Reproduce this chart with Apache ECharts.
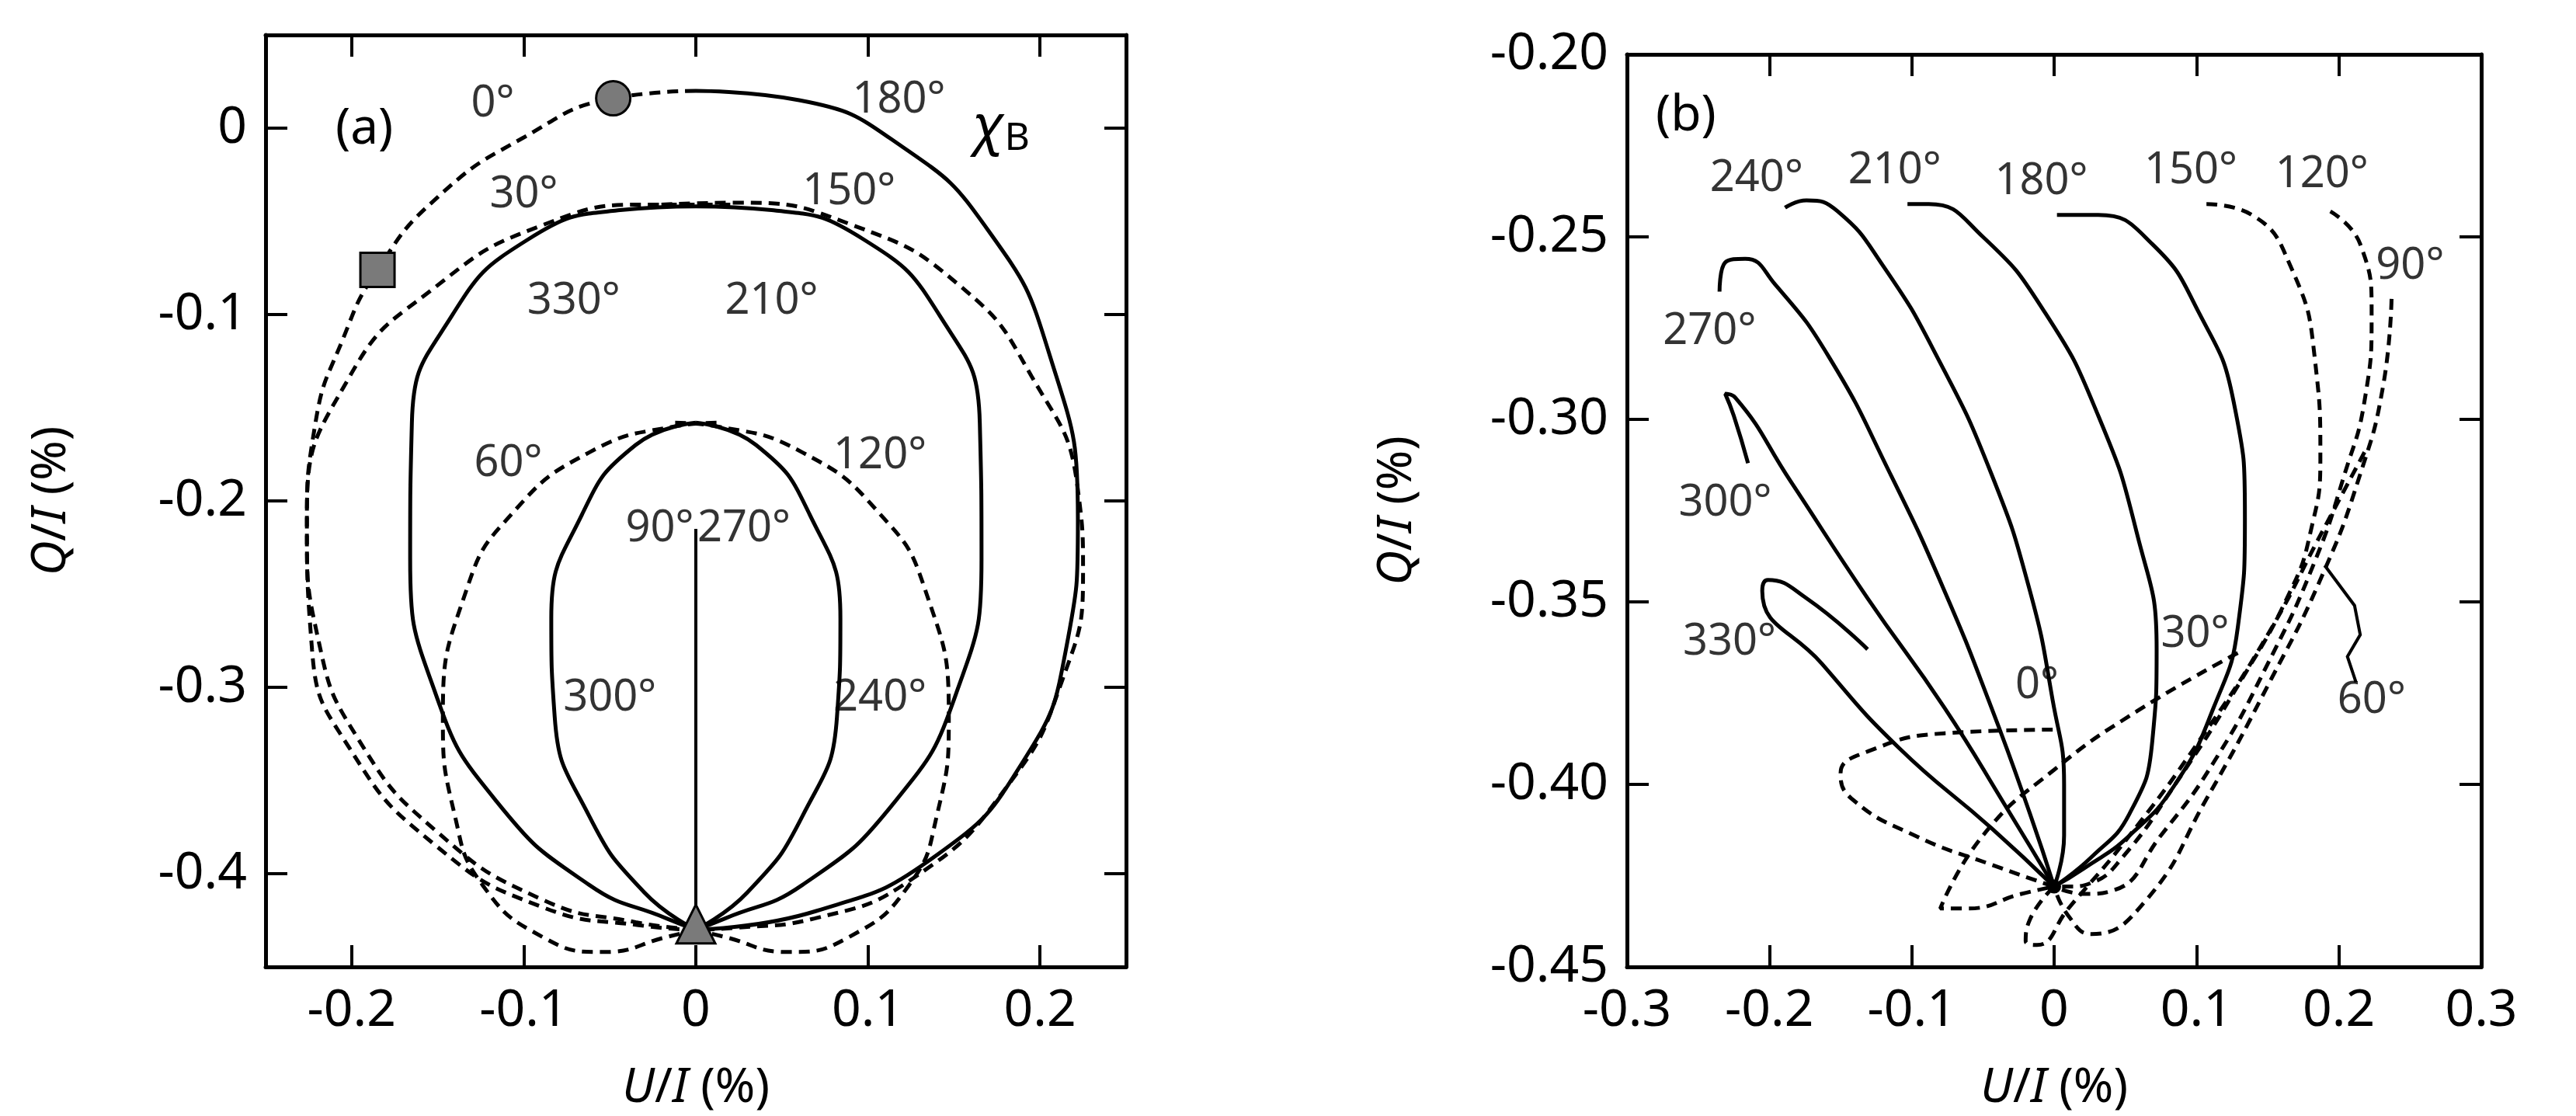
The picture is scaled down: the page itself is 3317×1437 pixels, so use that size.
<!DOCTYPE html>
<html>
<head>
<meta charset="utf-8">
<script src="https://cdn.jsdelivr.net/npm/echarts@6/dist/echarts.min.js"></script>
<style>html,body{margin:0;padding:0;background:#fff}#main{width:3317px;height:1437px}</style>
</head>
<body>
<div id="main"></div>
<script>
// panel (a) curves [U/I, Q/I]
var a0 = [[0,0.02],[-0.048,0.016],[-0.1,-0.005],[-0.15,-0.037],[-0.185,-0.076],[-0.205,-0.113],[-0.221,-0.158],[-0.226,-0.215],[-0.219,-0.276],[-0.196,-0.328],[-0.151,-0.377],[-0.089,-0.414],[-0.035,-0.426],[0,-0.43]];
var a180 = [[0,0.02],[0.06,0.015],[0.12,-0.01],[0.17,-0.055],[0.205,-0.12],[0.222,-0.21],[0.215,-0.28],[0.19,-0.34],[0.14,-0.39],[0.07,-0.42],[0,-0.43]];
var a30 = [[0.02,-0.041],[-0.026,-0.041],[-0.089,-0.052],[-0.151,-0.085],[-0.201,-0.133],[-0.226,-0.207],[-0.223,-0.28],[-0.201,-0.333],[-0.151,-0.385],[-0.089,-0.418],[-0.03,-0.428],[0,-0.43]];
var a150 = [[-0.02,-0.041],[0.024,-0.04],[0.091,-0.052],[0.154,-0.085],[0.195,-0.133],[0.222,-0.194],[0.225,-0.239],[0.213,-0.296],[0.181,-0.353],[0.127,-0.402],[0.069,-0.424],[0.024,-0.429],[0,-0.43]];
var a330 = [[0,-0.042],[-0.044,-0.044],[-0.098,-0.06],[-0.142,-0.101],[-0.165,-0.158],[-0.166,-0.231],[-0.151,-0.304],[-0.116,-0.361],[-0.062,-0.406],[-0.017,-0.424],[0,-0.43]];
var a210 = [[0,-0.042],[0.044,-0.044],[0.098,-0.06],[0.142,-0.101],[0.165,-0.158],[0.166,-0.231],[0.151,-0.304],[0.116,-0.361],[0.062,-0.406],[0.017,-0.424],[0,-0.43]];
var a60 = [[0.012,-0.158],[-0.012,-0.16],[-0.062,-0.174],[-0.107,-0.207],[-0.133,-0.247],[-0.147,-0.316],[-0.14,-0.369],[-0.124,-0.406],[-0.089,-0.434],[-0.053,-0.442],[-0.017,-0.434],[0,-0.43]];
var a120 = [[-0.012,-0.158],[0.012,-0.16],[0.062,-0.174],[0.107,-0.207],[0.133,-0.247],[0.147,-0.316],[0.14,-0.369],[0.124,-0.406],[0.089,-0.434],[0.053,-0.442],[0.017,-0.434],[0,-0.43]];
var a300 = [[0,-0.158],[-0.035,-0.17],[-0.066,-0.207],[-0.084,-0.263],[-0.082,-0.316],[-0.062,-0.369],[-0.03,-0.41],[0,-0.43]];
var a240 = [[0,-0.158],[0.035,-0.17],[0.066,-0.207],[0.084,-0.263],[0.082,-0.316],[0.062,-0.369],[0.03,-0.41],[0,-0.43]];
var a90 = [[0,-0.215],[0,-0.43]];
var aCircle = [[-0.048,0.016]];
var aSquare = [[-0.185,-0.076]];
var aTriangle = [[0,-0.427]];
var aLabels = [[-0.118,0.013,'0°'],[0.118,0.015,'180°'],[-0.1,-0.036,'30°'],[0.089,-0.034,'150°'],[-0.071,-0.093,'330°'],[0.044,-0.093,'210°'],[-0.109,-0.18,'60°'],[0.107,-0.176,'120°'],[-0.021,-0.215,'90°'],[0.028,-0.215,'270°'],[-0.05,-0.306,'300°'],[0.107,-0.306,'240°']];

// panel (b) curves
var b180 = [[0.002,-0.244],[0.031,-0.244],[0.069,-0.252],[0.102,-0.271],[0.126,-0.295],[0.134,-0.327],[0.129,-0.357],[0.112,-0.379],[0.085,-0.4],[0.053,-0.414],[0.021,-0.423],[0,-0.428]];
var b210 = [[-0.103,-0.241],[-0.088,-0.241],[-0.05,-0.25],[-0.006,-0.271],[0.031,-0.299],[0.058,-0.331],[0.072,-0.363],[0.069,-0.388],[0.053,-0.408],[0.026,-0.42],[0,-0.428]];
var b240 = [[-0.189,-0.242],[-0.174,-0.24],[-0.152,-0.243],[-0.12,-0.258],[-0.082,-0.283],[-0.044,-0.315],[-0.017,-0.347],[-0.001,-0.377],[0.007,-0.4],[0.007,-0.414],[0,-0.428]];
var b270 = [[-0.235,-0.265],[-0.231,-0.257],[-0.217,-0.256],[-0.196,-0.263],[-0.158,-0.283],[-0.115,-0.315],[-0.077,-0.347],[-0.044,-0.379],[-0.017,-0.408],[0,-0.428]];
var b300 = [[-0.215,-0.312],[-0.225,-0.299],[-0.231,-0.293],[-0.224,-0.294],[-0.185,-0.317],[-0.131,-0.349],[-0.077,-0.379],[-0.034,-0.406],[0,-0.428]];
var b330 = [[-0.131,-0.363],[-0.174,-0.349],[-0.201,-0.344],[-0.205,-0.347],[-0.163,-0.367],[-0.109,-0.39],[-0.044,-0.412],[0,-0.428]];
var b0 = [[-0.001,-0.385],[-0.077,-0.386],[-0.131,-0.391],[-0.15,-0.397],[-0.142,-0.404],[-0.098,-0.414],[-0.044,-0.422],[0,-0.428]];
var b30 = [[0.129,-0.364],[0.058,-0.38],[0,-0.396],[-0.05,-0.414],[-0.08,-0.434],[-0.061,-0.434],[-0.023,-0.43],[0,-0.428]];
var b60 = [[0.218,-0.309],[0.188,-0.331],[0.15,-0.359],[0.102,-0.388],[0.053,-0.414],[0.01,-0.434],[-0.012,-0.444],[-0.02,-0.443],[-0.017,-0.437],[0,-0.428]];
var b90 = [[0.237,-0.267],[0.231,-0.291],[0.215,-0.315],[0.188,-0.343],[0.15,-0.373],[0.107,-0.404],[0.064,-0.432],[0.026,-0.441],[0.01,-0.436],[0,-0.428]];
var b120 = [[0.194,-0.243],[0.215,-0.252],[0.223,-0.271],[0.218,-0.295],[0.204,-0.315],[0.183,-0.339],[0.15,-0.367],[0.112,-0.394],[0.075,-0.414],[0.042,-0.429],[0.021,-0.43],[0,-0.428]];
var b150 = [[0.107,-0.241],[0.139,-0.244],[0.166,-0.258],[0.183,-0.283],[0.187,-0.311],[0.18,-0.331],[0.166,-0.347],[0.129,-0.373],[0.085,-0.4],[0.048,-0.42],[0.026,-0.427],[0.01,-0.428],[0,-0.428]];
var bArrow = [[0.212,-0.372],[0.206,-0.365],[0.215,-0.359],[0.211,-0.351],[0.19,-0.340]];
var bLabels = [[-0.209,-0.234,'240°'],[-0.112,-0.232,'210°'],[-0.009,-0.235,'180°'],[0.096,-0.232,'150°'],[0.188,-0.233,'120°'],[0.25,-0.258,'90°'],[-0.242,-0.276,'270°'],[-0.231,-0.323,'300°'],[-0.228,-0.361,'330°'],[0.099,-0.359,'30°'],[-0.012,-0.373,'0°'],[0.223,-0.377,'60°']];

var aXTicks = [-0.2, -0.1, 0, 0.1, 0.2];
var aYTicks = [-0.4, -0.3, -0.2, -0.1, 0];
var bXTicks = [-0.3, -0.2, -0.1, 0, 0.1, 0.2, 0.3];
var bYTicks = [-0.45, -0.40, -0.35, -0.30, -0.25, -0.20];

var FONT = 'Noto Sans';
var chart = echarts.init(document.getElementById('main'), null, {renderer: 'canvas'});

function curve(data, dashed, gi) {
    return {
        type: 'line', data: data, xAxisIndex: gi * 2, yAxisIndex: gi * 2,
        showSymbol: false, symbol: 'none', smooth: true, animation: false, z: 3,
        lineStyle: {color: '#000', width: 5, type: dashed ? [14, 9] : 'solid'}
    };
}
function labels(data, gi) {
    return {
        type: 'scatter', xAxisIndex: gi * 2, yAxisIndex: gi * 2, symbolSize: 0, z: 5,
        data: data.map(function (d) { return {value: [d[0], d[1]], name: d[2]}; }),
        label: {show: true, position: 'inside', formatter: '{b}', color: '#000', fontSize: 56, fontFamily: FONT},
        emphasis: {disabled: true}, animation: false
    };
}
function marker(data, shape, size) {
    return {
        type: 'scatter', xAxisIndex: 0, yAxisIndex: 0, data: data, symbol: shape, symbolSize: size, z: 6,
        itemStyle: {color: '#7a7a7a', borderColor: '#000', borderWidth: 3, opacity: 1}, animation: false
    };
}

var labStyle = {color: '#000', fontSize: 66, fontFamily: FONT, margin: 24};
var nameStyle = {color: '#000', fontSize: 62, fontFamily: FONT, rich: {i: {fontStyle: 'italic', fontSize: 62, fontFamily: FONT}}};

function fmt(v) { return v === 0 ? '0' : String(Math.round(v * 10) / 10); }

function axes(min, max, ticks, f, nameText, gap, gi, isY) {
    var tick = {show: true, inside: true, length: 28, customValues: ticks, lineStyle: {color: '#000', width: 4}};
    var line = {show: true, onZero: false, lineStyle: {color: '#000', width: 5}};
    var main = {
        type: 'value', gridIndex: gi, min: min, max: max, interval: 0.05,
        position: isY ? 'left' : 'bottom',
        name: nameText, nameLocation: 'middle', nameGap: gap, nameTextStyle: nameStyle,
        axisLine: line, axisTick: tick, splitLine: {show: false},
        axisLabel: Object.assign({formatter: f, customValues: ticks}, labStyle)
    };
    var mirror = {
        type: 'value', gridIndex: gi, min: min, max: max, interval: 0.05,
        position: isY ? 'right' : 'top',
        axisLine: line, axisTick: tick, splitLine: {show: false}, axisLabel: {show: false}
    };
    return [main, mirror];
}

var xa = axes(-0.25, 0.25, aXTicks, fmt, '{i|U}/{i|I} (%)', 125, 0, false);
var ya = axes(-0.45, 0.05, aYTicks, fmt, '{i|Q}/{i|I} (%)', 245, 0, true);
var xb = axes(-0.3, 0.3, bXTicks, fmt, '{i|U}/{i|I} (%)', 125, 1, false);
var yb = axes(-0.45, -0.2, bYTicks, function (v) { return v.toFixed(2); }, '{i|Q}/{i|I} (%)', 265, 1, true);

var option = {
    backgroundColor: '#fff',
    grid: [
        {left: 342, right: 1867, top: 45, bottom: 152},
        {left: 2095, right: 122, top: 70, bottom: 132}
    ],
    xAxis: [xa[0], xa[1], xb[0], xb[1]],
    yAxis: [ya[0], ya[1], yb[0], yb[1]],
    graphic: [
        {type: 'text', left: 432, top: 135, z: 10, style: {text: '(a)', font: '64px "Noto Sans"', fill: '#000'}},
        {type: 'text', left: 1252, top: 128, z: 10, style: {text: '{c|χ}{s|B}', fill: '#000',
            rich: {c: {fontStyle: 'italic', fontSize: 72, fontFamily: FONT, fill: '#000'}, s: {fontSize: 50, fontFamily: FONT, padding: [30, 0, 0, 0], fill: '#000'}}}},
        {type: 'text', left: 2132, top: 118, z: 10, style: {text: '(b)', font: '64px "Noto Sans"', fill: '#000'}}
    ],
    series: [
        curve(a0, true, 0), curve(a180, false, 0), curve(a30, true, 0), curve(a150, true, 0),
        curve(a330, false, 0), curve(a210, false, 0), curve(a60, true, 0), curve(a120, true, 0),
        curve(a300, false, 0), curve(a240, false, 0),
        Object.assign(curve(a90, false, 0), {smooth: false, lineStyle: {color: '#000', width: 4}}),
        marker(aCircle, 'circle', 44), marker(aSquare, 'rect', 44), marker(aTriangle, 'triangle', 50),
        labels(aLabels, 0),
        curve(b180, false, 1), curve(b210, false, 1), curve(b240, false, 1), curve(b270, false, 1),
        curve(b300, false, 1), curve(b330, false, 1),
        curve(b0, true, 1), curve(b30, true, 1), curve(b60, true, 1), curve(b90, true, 1),
        curve(b120, true, 1), curve(b150, true, 1),
        {type: 'lines', coordinateSystem: 'cartesian2d', xAxisIndex: 2, yAxisIndex: 2, polyline: true,
         symbol: ['none', 'arrow'], symbolSize: 30, animation: false, z: 7,
         lineStyle: {color: '#000', width: 4, opacity: 1, curveness: 0}, data: [{coords: bArrow}]},
        {type: 'scatter', xAxisIndex: 2, yAxisIndex: 2, data: [[0, -0.428]], symbolSize: 18, itemStyle: {color: '#000', opacity: 1}, z: 6, animation: false},
        labels(bLabels, 1)
    ]
};
chart.setOption(option);
window.addEventListener('resize', chart.resize);
</script>
</body>
</html>
